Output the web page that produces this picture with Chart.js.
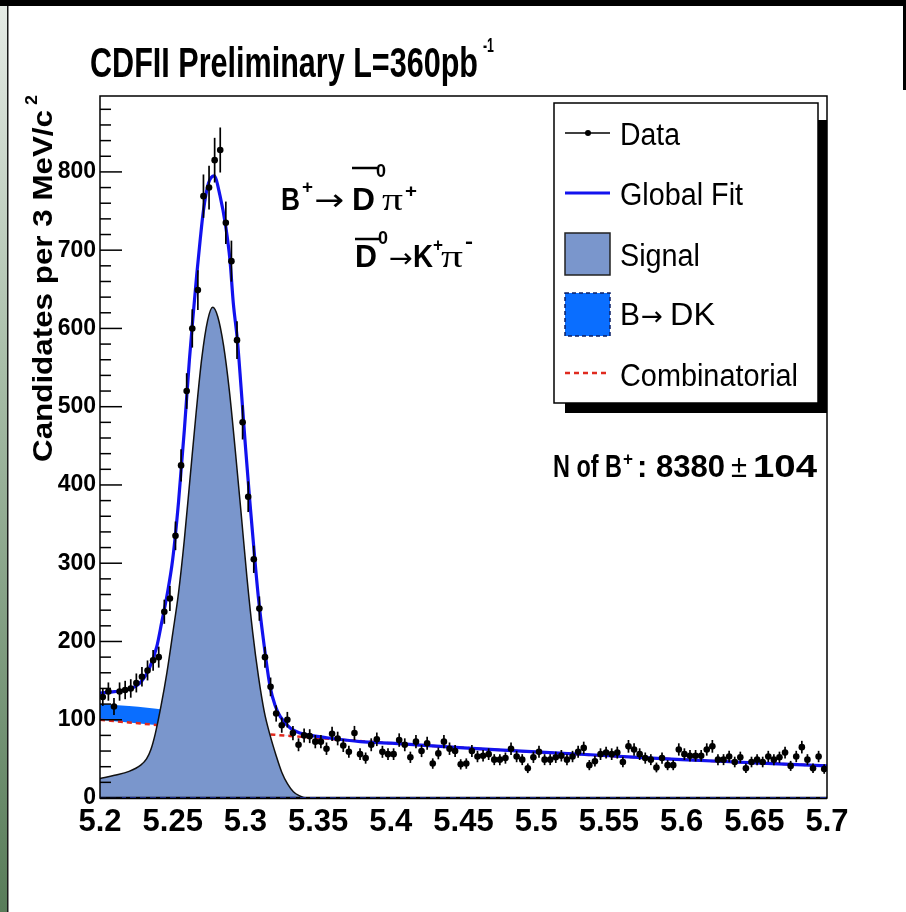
<!DOCTYPE html>
<html>
<head>
<meta charset="utf-8">
<script src="https://cdn.jsdelivr.net/npm/chart.js@4.4.0/dist/chart.umd.min.js"></script>
<style>
  html, body { margin: 0; padding: 0; background: #fff; }
  canvas { display: block; }
</style>
</head>
<body>
<canvas id="massPlot" width="906" height="912"></canvas>
<script>
// ---- histogram: 130 bins between 5.2 and 5.7 GeV/c^2
const massMin = 5.2;
const massMax = 5.7;
const nBins = 130;
const counts = [
  129, 136, 117, 136, 138, 140, 147, 155, 163, 176,
  180, 238, 255, 335, 425, 520, 600, 649, 769, 780,
  815, 828, 735, 686, 585, 480, 385, 305, 242, 180,
  142, 108, 93, 100, 83, 68, 80, 79, 72, 72,
  63, 82, 76, 67, 59, 83, 56, 51, 68, 75,
  59, 56, 56, 74, 68, 52, 72, 60, 70, 44,
  57, 72, 63, 60, 43, 44, 60, 53, 54, 56,
  49, 49, 51, 63, 53, 49, 38, 52, 59, 49,
  49, 52, 54, 49, 53, 59, 64, 42, 47, 56,
  58, 56, 58, 46, 66, 62, 56, 51, 49, 39,
  51, 42, 42, 62, 56, 54, 54, 54, 62, 66,
  49, 49, 53, 46, 52, 38, 46, 49, 46, 53,
  49, 52, 58, 41, 53, 65, 49, 38, 53, 37
];

// ---- fit curves
const fitX = [5.200, 5.210, 5.218, 5.2275, 5.234, 5.239, 5.2425, 5.246, 5.250, 5.254,
  5.258, 5.2615, 5.2642, 5.2665, 5.269, 5.2711, 5.2745, 5.2785, 5.2825, 5.2865,
  5.2894, 5.2917, 5.2945, 5.297, 5.300, 5.303, 5.306, 5.309, 5.3124, 5.317,
  5.3205, 5.324, 5.331, 5.3375, 5.345, 5.356, 5.379, 5.400, 5.450, 5.500,
  5.550, 5.600, 5.650, 5.700];
const fitY = [134, 136, 138, 147, 166, 193, 225, 258, 305, 378,
  470, 560, 620, 668, 715, 750, 785, 795, 770, 730,
  687, 632, 585, 525, 450, 380, 315, 255, 202, 142,
  118, 104, 89, 83, 80, 77, 72, 70, 64, 59,
  54, 49, 45, 41];

const signalX = [5.200, 5.210, 5.220, 5.228, 5.232, 5.235, 5.238, 5.242, 5.246, 5.250,
  5.254, 5.258, 5.262, 5.266, 5.270, 5.274, 5.2775, 5.281, 5.285, 5.289,
  5.293, 5.297, 5.301, 5.305, 5.309, 5.313, 5.317, 5.321, 5.325, 5.329,
  5.333, 5.337, 5.342, 5.700];
const signalY = [25, 29, 34, 42, 50, 62, 82, 118, 160, 210,
  262, 330, 410, 490, 562, 610, 627, 615, 578, 520,
  445, 365, 283, 212, 155, 110, 80, 55, 33, 18,
  8, 3, 0, 0];

const bkgX = [5.200, 5.220, 5.245, 5.260, 5.275, 5.290, 5.305, 5.320, 5.350, 5.400,
  5.450, 5.500, 5.550, 5.600, 5.650, 5.700];
const combY = [100, 96.5, 92.3, 89.9, 87.5, 85.2, 82.9, 80.8, 76.6, 70.0,
  64.1, 58.6, 53.6, 49.1, 44.9, 41.1];
const dkTopY = [120, 117.5, 112.5, 107.5, 100, 92, 85, 80.8, 76.6, 70.0,
  64.1, 58.6, 53.6, 49.1, 44.9, 41.1];

// ---- axes
const xTickValues = [5.2, 5.25, 5.3, 5.35, 5.4, 5.45, 5.5, 5.55, 5.6, 5.65, 5.7];
const xTickLabels = ["5.2", "5.25", "5.3", "5.35", "5.4", "5.45", "5.5", "5.55", "5.6", "5.65", "5.7"];
const yTickValues = [0, 100, 200, 300, 400, 500, 600, 700, 800];
const yMax = 897;

const SIGNAL_COLOR = "#7a96cc";
const DK_COLOR = "#0a6eff";
const FIT_COLOR = "#1212ee";
const COMB_COLOR = "#e02a1e";
const FONT = "'Liberation Sans', Arial, Helvetica, sans-serif";
const SERIF = "'Liberation Serif', 'Times New Roman', serif";
const ARROWFONT = "'DejaVu Sans', sans-serif";

const binWidth = (massMax - massMin) / nBins;
const dataPoints = counts.map((c, i) => ({ x: massMin + (i + 0.5) * binWidth, y: c }));
const toPts = (xs, ys) => xs.map((x, i) => ({ x: x, y: ys[i] }));

// draws text squeezed/stretched to a given width (ROOT's narrow helvetica)
function fitText(ctx, str, x, y, font, width) {
  ctx.font = font;
  const w = ctx.measureText(str).width;
  const sx = width ? width / w : 1;
  ctx.save();
  ctx.translate(x, y);
  ctx.scale(sx, 1);
  ctx.fillText(str, 0, 0);
  ctx.restore();
}

const pageDecor = {
  id: "pageDecor",
  beforeDraw(chart) {
    const ctx = chart.ctx;
    ctx.save();
    ctx.fillStyle = "#fff";
    ctx.fillRect(0, 0, chart.width, chart.height);
    const g = ctx.createLinearGradient(0, 0, 0, chart.height);
    g.addColorStop(0, "#e6ebe6");
    g.addColorStop(0.4, "#a9bea9");
    g.addColorStop(1, "#587c59");
    ctx.fillStyle = g;
    ctx.fillRect(0, 0, 7, chart.height);
    ctx.fillStyle = "#1a1a1a";
    ctx.fillRect(7, 0, 1.5, chart.height);
    ctx.fillStyle = "#000";
    ctx.fillRect(0, 0, chart.width, 6);
    ctx.fillRect(chart.width - 3, 0, 3, 90);
    ctx.restore();
  }
};

const errorBars = {
  id: "errorBars",
  afterDatasetsDraw(chart) {
    const ctx = chart.ctx;
    const xs = chart.scales.x, ys = chart.scales.y;
    ctx.save();
    ctx.strokeStyle = "#000";
    ctx.lineWidth = 1.7;
    chart.data.datasets[0].data.forEach(p => {
      const e = Math.sqrt(p.y);
      const px = xs.getPixelForValue(p.x);
      ctx.beginPath();
      ctx.moveTo(px, ys.getPixelForValue(p.y - e));
      ctx.lineTo(px, ys.getPixelForValue(p.y + e));
      ctx.stroke();
    });
    ctx.restore();
  }
};

const frameAndText = {
  id: "frameAndText",
  afterDraw(chart) {
    const ctx = chart.ctx;
    const a = chart.chartArea;
    const ys = chart.scales.y;
    ctx.save();

    // frame
    ctx.strokeStyle = "#000";
    ctx.lineWidth = 1.5;
    ctx.strokeRect(a.left, a.top, a.right - a.left, a.bottom - a.top);
    ctx.lineWidth = 2.5;
    ctx.beginPath();
    ctx.moveTo(a.left, a.bottom);
    ctx.lineTo(a.right, a.bottom);
    ctx.stroke();
    ctx.strokeStyle = "#1b2a8a";
    ctx.lineWidth = 1;
    ctx.setLineDash([6, 4]);
    ctx.beginPath();
    ctx.moveTo(a.left, a.bottom - 0.5);
    ctx.lineTo(a.right, a.bottom - 0.5);
    ctx.stroke();
    ctx.setLineDash([]);

    // y ticks inside the frame
    ctx.strokeStyle = "#000";
    ctx.lineWidth = 1.5;
    for (let v = 0; v <= yMax; v += 20) {
      const py = ys.getPixelForValue(v);
      const len = v % 100 === 0 ? 22 : 11;
      ctx.beginPath();
      ctx.moveTo(a.left, py);
      ctx.lineTo(a.left + len, py);
      ctx.stroke();
    }

    ctx.fillStyle = "#000";
    ctx.textAlign = "left";
    ctx.textBaseline = "alphabetic";

    // title
    fitText(ctx, "CDFII Preliminary L=360pb", 90, 77, "bold 42px " + FONT, 388);
    fitText(ctx, "-1", 483, 52, "bold 20px " + FONT, 11);

    // y axis title
    ctx.save();
    ctx.translate(52, 462);
    ctx.rotate(-Math.PI / 2);
    fitText(ctx, "Candidates per 3 MeV/c", 0, 0, "bold 28px " + FONT, 352);
    fitText(ctx, "2", 357, -15, "bold 17px " + FONT, 10);
    ctx.restore();

    // decay formula
    ctx.lineWidth = 2.5;
    fitText(ctx, "B", 281, 210, "bold 31px " + FONT, 19);
    fitText(ctx, "+", 302, 193, "bold 19px " + FONT, 11);
    fitText(ctx, "\u2192", 314, 210, "30px " + ARROWFONT, 30);
    fitText(ctx, "D", 352, 210, "bold 31px " + FONT, 23);
    ctx.beginPath(); ctx.moveTo(352, 168); ctx.lineTo(377, 168); ctx.stroke();
    fitText(ctx, "0", 376, 177, "bold 19px " + FONT, 10);
    fitText(ctx, "\u03c0", 382, 210, "32px " + SERIF, 21);
    fitText(ctx, "+", 405, 197, "bold 19px " + FONT, 12);

    fitText(ctx, "D", 355, 267, "bold 31px " + FONT, 22);
    ctx.beginPath(); ctx.moveTo(355, 239); ctx.lineTo(379, 239); ctx.stroke();
    fitText(ctx, "0", 378, 244, "bold 19px " + FONT, 10);
    fitText(ctx, "\u2192", 389, 267, "27px " + ARROWFONT, 24);
    fitText(ctx, "K", 413, 267, "bold 31px " + FONT, 20);
    fitText(ctx, "+", 433, 251, "bold 19px " + FONT, 10);
    fitText(ctx, "\u03c0", 441, 267, "32px " + SERIF, 22);
    fitText(ctx, "-", 465, 248, "bold 21px " + FONT, 8);

    // yield
    fitText(ctx, "N of B", 553, 477, "bold 31px " + FONT, 69);
    fitText(ctx, "+", 623, 465, "bold 19px " + FONT, 10);
    fitText(ctx, ": 8380", 637, 477, "bold 31px " + FONT, 88);
    fitText(ctx, "\u00b1", 731, 477, "32px " + FONT, 16);
    fitText(ctx, "104", 753, 477, "bold 31px " + FONT, 64);

    // legend box with shadow
    const ds = chart.data.datasets;
    ctx.fillStyle = "#000";
    ctx.fillRect(818, 120, 9, 293);
    ctx.fillRect(565, 403, 262, 10);
    ctx.fillStyle = "#fff";
    ctx.fillRect(554, 103, 264, 300);
    ctx.strokeStyle = "#000";
    ctx.lineWidth = 1.5;
    ctx.strokeRect(554, 103, 264, 300);

    // Data
    ctx.beginPath(); ctx.moveTo(565, 133); ctx.lineTo(610, 133); ctx.stroke();
    ctx.fillStyle = "#000";
    ctx.beginPath(); ctx.arc(588, 133, 3, 0, Math.PI * 2); ctx.fill();
    // Global fit
    ctx.strokeStyle = FIT_COLOR; ctx.lineWidth = 3;
    ctx.beginPath(); ctx.moveTo(565, 193); ctx.lineTo(610, 193); ctx.stroke();
    // Signal
    ctx.fillStyle = SIGNAL_COLOR;
    ctx.fillRect(565, 233, 45, 42);
    ctx.strokeStyle = "#222"; ctx.lineWidth = 1.5;
    ctx.strokeRect(565, 233, 45, 42);
    // B -> DK
    ctx.fillStyle = DK_COLOR;
    ctx.fillRect(565, 293, 45, 43);
    ctx.strokeStyle = "#0b1f66"; ctx.setLineDash([4, 3]);
    ctx.strokeRect(565, 293, 45, 43);
    // Combinatorial
    ctx.strokeStyle = COMB_COLOR; ctx.lineWidth = 2.5; ctx.setLineDash([5, 4]);
    ctx.beginPath(); ctx.moveTo(565, 373); ctx.lineTo(610, 373); ctx.stroke();
    ctx.setLineDash([]);

    ctx.fillStyle = "#000";
    const lf = "31px " + FONT;
    fitText(ctx, ds[0].label, 620, 145, lf, 60);
    fitText(ctx, ds[1].label, 620, 205, lf, 123);
    fitText(ctx, ds[2].label, 620, 266, lf, 80);
    const dkParts = ds[3].label.split("\u2192");
    fitText(ctx, dkParts[0], 620, 325, lf, 20);
    fitText(ctx, "\u2192", 641, 325, "26px " + ARROWFONT, 22);
    fitText(ctx, dkParts[1].trim(), 670, 325, lf, 45);
    fitText(ctx, ds[4].label, 620, 386, lf, 178);

    ctx.restore();
  }
};

new Chart(document.getElementById("massPlot"), {
  type: "scatter",
  data: {
    datasets: [
      {
        label: "Data",
        data: dataPoints,
        showLine: false,
        pointRadius: 3.3,
        pointBackgroundColor: "#000",
        pointBorderWidth: 0,
        order: 1
      },
      {
        label: "Global Fit",
        data: toPts(fitX, fitY),
        showLine: true,
        borderColor: FIT_COLOR,
        borderWidth: 3.2,
        pointRadius: 0,
        cubicInterpolationMode: "monotone",
        fill: false,
        order: 2
      },
      {
        label: "Signal",
        data: toPts(signalX, signalY),
        showLine: true,
        borderColor: "#111",
        borderWidth: 1.5,
        backgroundColor: SIGNAL_COLOR,
        fill: "origin",
        pointRadius: 0,
        cubicInterpolationMode: "monotone",
        order: 3
      },
      {
        label: "B\u2192 DK",
        data: toPts(bkgX, dkTopY),
        showLine: true,
        borderColor: "rgba(0,0,0,0)",
        borderWidth: 1,
        backgroundColor: DK_COLOR,
        fill: 4,
        pointRadius: 0,
        cubicInterpolationMode: "monotone",
        order: 5
      },
      {
        label: "Combinatorial",
        data: toPts(bkgX, combY),
        showLine: true,
        borderColor: COMB_COLOR,
        borderWidth: 2.5,
        borderDash: [5, 4],
        pointRadius: 0,
        cubicInterpolationMode: "monotone",
        fill: false,
        order: 4
      }
    ]
  },
  options: {
    responsive: false,
    animation: false,
    events: [],
    layout: { padding: { top: 96, right: 79, bottom: 54, left: 0 } },
    plugins: {
      legend: { display: false },
      tooltip: { enabled: false },
      title: { display: false }
    },
    scales: {
      x: {
        type: "linear",
        min: massMin,
        max: massMax,
        afterBuildTicks: (s) => { s.ticks = xTickValues.map(v => ({ value: v })); },
        afterFit: (s) => { s.height = 60; },
        grid: { display: false, drawTicks: false },
        border: { display: false },
        ticks: {
          padding: 6,
          color: "#000",
          maxRotation: 0,
          autoSkip: false,
          font: { family: FONT, size: 31, weight: "bold" },
          callback: (v, i) => xTickLabels[i]
        }
      },
      y: {
        type: "linear",
        min: 0,
        max: yMax,
        afterBuildTicks: (s) => { s.ticks = yTickValues.map(v => ({ value: v })); },
        afterFit: (s) => { s.width = 100; },
        grid: { display: false, drawTicks: false },
        border: { display: false },
        ticks: {
          padding: 4,
          color: "#000",
          font: { family: FONT, size: 23, weight: "bold" },
          callback: (v) => String(v)
        }
      }
    }
  },
  plugins: [pageDecor, errorBars, frameAndText]
});
</script>
</body>
</html>
